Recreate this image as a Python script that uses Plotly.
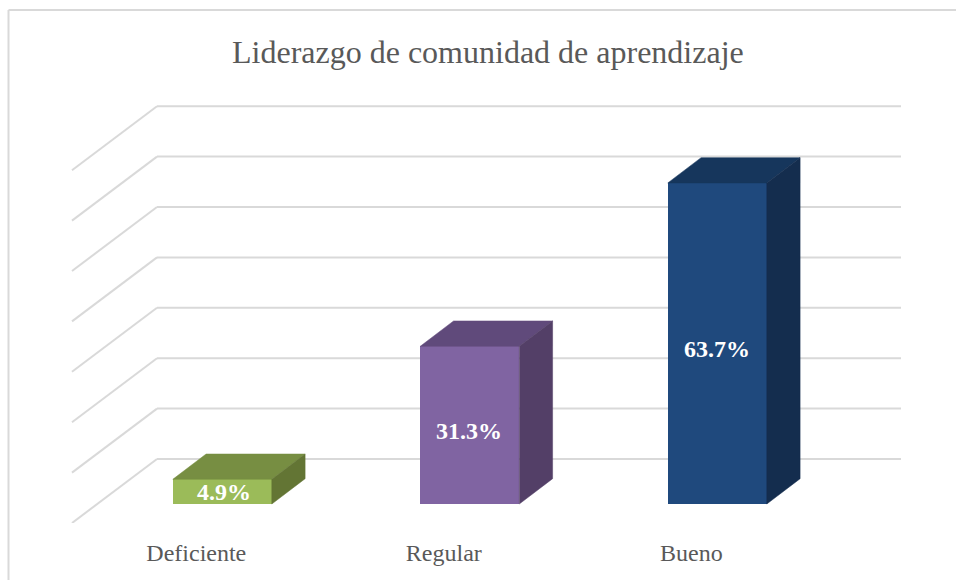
import plotly.graph_objects as go

categories = ["Deficiente", "Regular", "Bueno"]
values = [4.9, 31.3, 63.7]
wall_ticks = [0, 10, 20, 30, 40, 50, 60, 70]
title_text = "Liderazgo de comunidad de aprendizaje"

front_colors = ["#9BBB59", "#8064A2", "#1F497D"]
top_colors = ["#778E42", "#604A7B", "#16365C"]
side_colors = ["#637534", "#533F67", "#142D4E"]

W, H = 956, 580
BASE_PX = 504.0
FLOOR_PX = 523.0
PX_PER_CAT = 247.5
PX_PER_VAL = 5.04
CENTER0_PX = 222.3

x_range = [(0 - CENTER0_PX) / PX_PER_CAT, (W - CENTER0_PX) / PX_PER_CAT]
y_range = [(BASE_PX - FLOOR_PX) / PX_PER_VAL, BASE_PX / PX_PER_VAL]
xs = list(range(len(categories)))
half = 0.2
dx = 33.3 / PX_PER_CAT
dy = 25.3 / PX_PER_VAL
wall_front_x = (72 - CENTER0_PX) / PX_PER_CAT
wall_back_x = (157 - CENTER0_PX) / PX_PER_CAT
wall_right_x = (901 - CENTER0_PX) / PX_PER_CAT
wall_zero = (BASE_PX - 459) / PX_PER_VAL
wall_front_zero = (BASE_PX - FLOOR_PX) / PX_PER_VAL

fig = go.Figure()

fig.add_trace(go.Bar(
    x=xs, y=values, width=2 * half, marker=dict(color=front_colors, line=dict(width=0)),
    hoverinfo="skip", showlegend=False))

for x, v, tc, sc in zip(xs, values, top_colors, side_colors):
    fig.add_trace(go.Scatter(
        x=[x - half, x + half, x + half + dx, x - half + dx, x - half],
        y=[v, v, v + dy, v + dy, v],
        mode="lines", fill="toself", fillcolor=tc, line=dict(color=tc, width=0.5),
        hoverinfo="skip", showlegend=False))
    fig.add_trace(go.Scatter(
        x=[x + half, x + half + dx, x + half + dx, x + half, x + half],
        y=[0, dy, v + dy, v, 0],
        mode="lines", fill="toself", fillcolor=sc, line=dict(color=sc, width=0.5),
        hoverinfo="skip", showlegend=False))

label_shift_px = [0, -6, -6]
label_xshift_px = [2, -1, 0]
annotations = [
    dict(x=x, y=v / 2, yshift=s, xshift=sx, text=f"{v:.1f}%", showarrow=False, xref="x", yref="y",
         font=dict(family="Liberation Serif", size=24, color="#FFFFFF", weight="bold"))
    for x, v, s, sx in zip(xs, values, label_shift_px, label_xshift_px)
]
annotations.append(dict(
    x=488 / W, y=(FLOOR_PX - 52) / FLOOR_PX, xref="paper", yref="paper",
    xanchor="center", yanchor="middle",
    text=title_text, showarrow=False,
    font=dict(family="Liberation Serif", size=32, color="#595959")))

border = dict(color="#D9D9D9", width=2)
grid = dict(color="#D9D9D9", width=2)
shapes = [
    dict(type="line", xref="paper", yref="paper", x0=8.5 / W, x1=8.5 / W, y0=-(H - FLOOR_PX) / FLOOR_PX,
         y1=(FLOOR_PX - 10) / FLOOR_PX, line=border, layer="below"),
    dict(type="line", xref="paper", yref="paper", x0=8.5 / W, x1=1, y0=(FLOOR_PX - 10) / FLOOR_PX,
         y1=(FLOOR_PX - 10) / FLOOR_PX, line=border, layer="below"),
]
for t in wall_ticks:
    shapes.append(dict(type="line", xref="x", yref="y", x0=wall_front_x, x1=wall_back_x,
                       y0=wall_front_zero + t, y1=wall_zero + t, line=grid, layer="below"))
    shapes.append(dict(type="line", xref="x", yref="y", x0=wall_back_x, x1=wall_right_x,
                       y0=wall_zero + t, y1=wall_zero + t, line=grid, layer="below"))

label_offset = 26 / PX_PER_CAT
fig.update_layout(
    width=W, height=H, margin=dict(l=0, r=0, t=0, b=H - FLOOR_PX, pad=0),
    paper_bgcolor="#FFFFFF", plot_bgcolor="#FFFFFF",
    xaxis=dict(range=x_range, tickmode="array", tickvals=[x - label_offset for x in xs],
               ticktext=categories, showgrid=False, zeroline=False, showline=False,
               ticks="outside", ticklen=8, tickcolor="rgba(0,0,0,0)",
               tickfont=dict(family="Liberation Serif", size=24, color="#595959")),
    yaxis=dict(range=y_range, showgrid=False, zeroline=False, showline=False, showticklabels=False),
    annotations=annotations, shapes=shapes,
    bargap=0,
)
fig.write_html("out.html", config={"displayModeBar": False},
               post_script="document.body.style.margin='0';")
